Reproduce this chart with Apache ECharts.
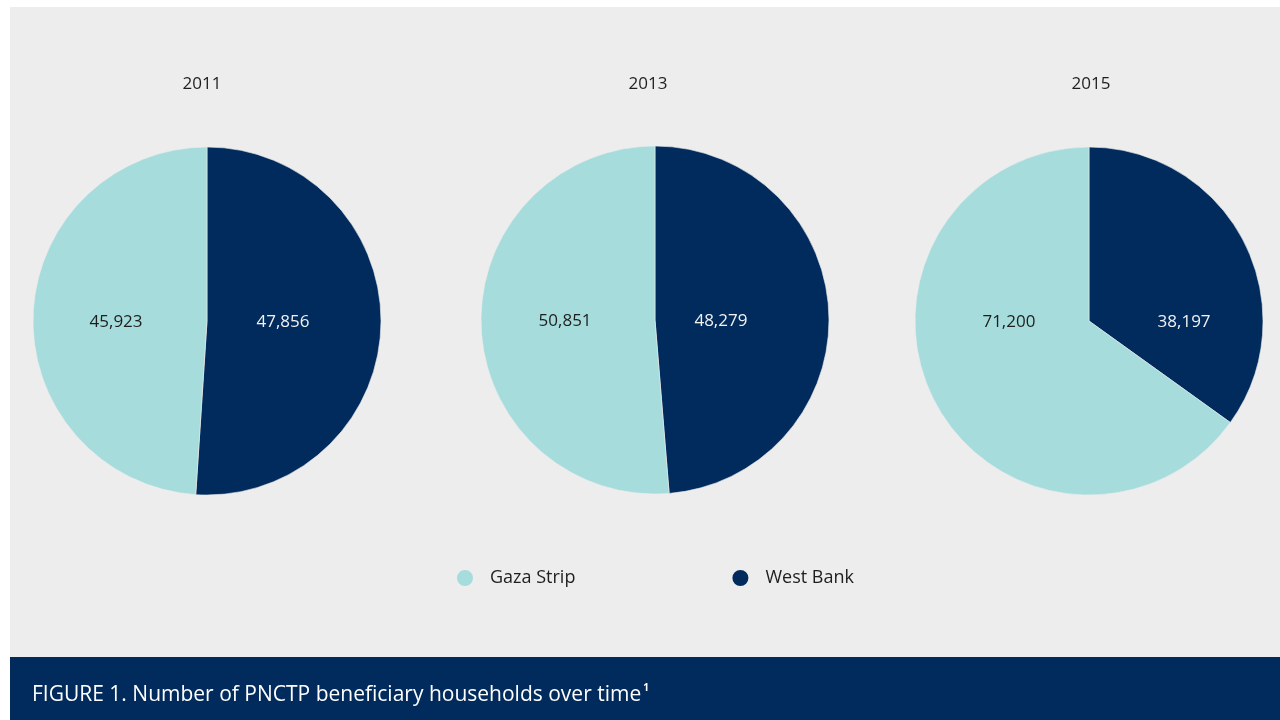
<!DOCTYPE html>
<html><head><meta charset="utf-8">
<script src="https://cdn.jsdelivr.net/npm/echarts@6/dist/echarts.min.js"></script>
<style>html,body{margin:0;padding:0;background:#fff}#c{width:1280px;height:720px}</style>
</head><body><div id="c"></div>
<script>
const years = ['2011', '2013', '2015'];
const categories = ['West Bank', 'Gaza Strip'];
const westBank = [47856, 48279, 38197];
const gazaStrip = [45923, 50851, 71200];
const footerText = 'FIGURE 1. Number of PNCTP beneficiary households over time';

const colors = {'West Bank': '#002b5c', 'Gaza Strip': '#a6dcdc'};
const labelColors = {'West Bank': '#f2f2f2', 'Gaza Strip': '#1e1e1e'};
const centers = [[207, 321], [655, 320], [1089, 321]];
const titleX = [202, 648, 1091];
// horizontal nudges for the West Bank / Gaza Strip value labels
const labelNudge = [[-14, -1], [-24, 0], [15, 0]];
const FONT = '"Open Sans", Lato, sans-serif';

const chart = echarts.init(document.getElementById('c'));
const series = years.map((y, i) => {
  const cy = centers[i][1] + 1;
  return {
    type: 'pie',
    name: y,
    center: centers[i],
    radius: 174,
    startAngle: 90,
    clockwise: true,
    avoidLabelOverlap: false,
    silent: true,
    label: {
      show: true,
      position: 'inside',
      fontFamily: FONT,
      fontSize: 17,
      formatter: p => p.value.toLocaleString('en-US')
    },
    labelLine: {show: false},
    labelLayout: function (p) { return {y: cy, dx: labelNudge[i][p.dataIndex], verticalAlign: 'middle'}; },
    itemStyle: {borderWidth: 0.6, borderColor: '#ededed'},
    data: categories.map(c => ({
      name: c,
      value: c === 'West Bank' ? westBank[i] : gazaStrip[i],
      itemStyle: {color: colors[c]},
      label: {color: labelColors[c]}
    }))
  };
});

chart.setOption({
  animation: false,
  backgroundColor: '#ffffff',
  graphic: [
    {type: 'rect', z: -10, shape: {x: 10, y: 7, width: 1270, height: 650}, style: {fill: '#ededed'}},
    {type: 'rect', z: -10, shape: {x: 10, y: 657, width: 1270, height: 63}, style: {fill: '#002b5c'}}
  ].concat(years.map((y, i) => ({
    type: 'text', z: 10, x: titleX[i], y: 84,
    style: {text: y, align: 'center', verticalAlign: 'middle', font: '17px ' + FONT, fill: '#1e1e1e'}
  }))),
  title: [{
    text: '{m|' + footerText + '}{s|1}',
    left: 32,
    top: 683,
    padding: 0,
    textStyle: {
      rich: {
        m: {fontFamily: FONT, fontSize: 21, color: '#ffffff', fontWeight: 'normal'},
        s: {fontFamily: FONT, fontSize: 10, color: '#ffffff', verticalAlign: 'top', padding: [0, 0, 14, 2]}
      }
    }
  }],
  legend: {
    data: ['Gaza Strip', 'West Bank'],
    left: 455,
    top: 568,
    padding: 0,
    icon: 'circle',
    itemWidth: 18,
    itemHeight: 18,
    itemGap: 155,
    selectedMode: false,
    textStyle: {fontFamily: FONT, fontSize: 18, color: '#1e1e1e', padding: [0, 0, 0, 11]}
  },
  series: series
});
</script></body></html>
